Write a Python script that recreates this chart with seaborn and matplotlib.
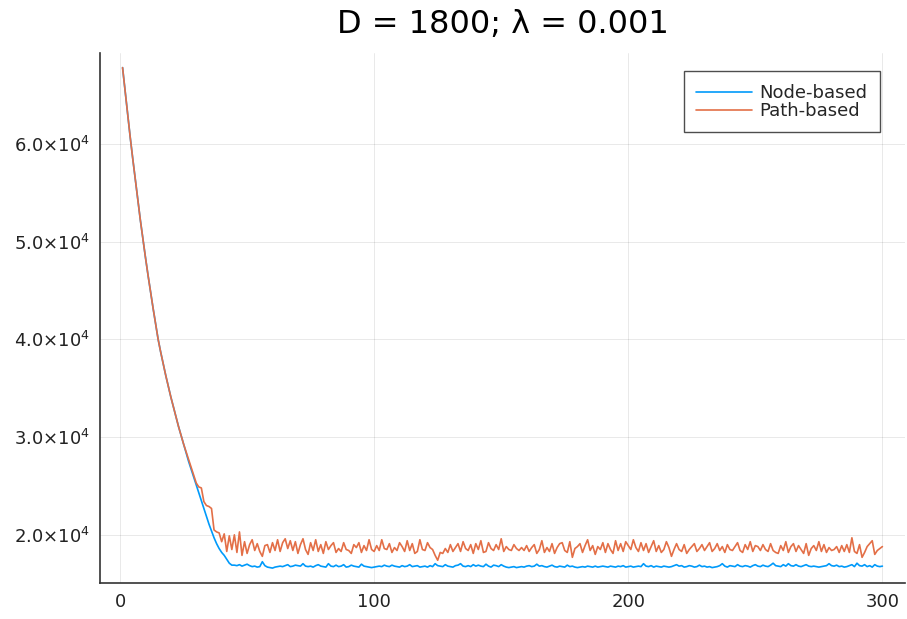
import matplotlib
matplotlib.use("Agg")
import matplotlib.pyplot as plt
from matplotlib.ticker import FixedLocator, FuncFormatter
import seaborn as sns
import pandas as pd

# ---- data ----
iterations = list(range(1, 301))

node_decay = [67800, 65400, 63000, 60700, 58500, 56400, 54300, 52200, 50300, 48400,
              46600, 44900, 43200, 41600, 40000, 38700, 37500, 36300, 35200, 34100,
              33100, 32100, 31100, 30200, 29300, 28400, 27500, 26700, 25900, 25100,
              24300, 23500, 22700, 21900, 21100, 20400, 19700, 19100, 18600, 18200,
              17900, 17500, 17100, 16900]
node_plateau = [16900, 16850, 16950, 16800, 16900, 17000, 16850, 16750, 16800, 16700,
                16750, 17250, 16850, 16700, 16650, 16600, 16700, 16750, 16800, 16750,
                16850, 16950, 16750, 16800, 16900, 16850, 16800, 17050, 16800, 16750,
                16800, 16700, 16850, 16950, 16800, 16750, 16700, 17050, 16800, 16750,
                16900, 16750, 16800, 16950, 16700, 16750, 16900, 16800, 16750, 16700,
                17000, 16800, 16750, 16700, 16650, 16700, 16750, 16800, 16750, 16900,
                16800, 16750, 16900, 16800, 16750, 16700, 16850, 16750, 16800, 16950,
                16750, 16800, 16850, 16700, 16750, 16800, 16700, 16850, 16750, 17050,
                16850, 16800, 16750, 16950, 16800, 16750, 16700, 16850, 16900, 17050,
                16800, 16750, 16850, 16750, 16950, 16800, 16900, 16800, 16750, 17000,
                16800, 16700, 16900, 16850, 16750, 16950, 16800, 16700, 16650, 16700,
                16750, 16650, 16700, 16750, 16700, 16800, 16850, 16750, 16800, 17000,
                16800, 16850, 16750, 16700, 16800, 16900, 16750, 16700, 16800, 16750,
                16700, 16900, 16750, 16800, 16700, 16650, 16700, 16750, 16700, 16800,
                16750, 16700, 16800, 16700, 16750, 16800, 16750, 16700, 16800, 16750,
                16700, 16800, 16750, 16850, 16700, 16750, 16800, 16700, 16750, 16800,
                16750, 17050, 16800, 16750, 16850, 16700, 16800, 16750, 16700, 16800,
                16750, 16700, 16750, 16850, 16950, 16800, 16850, 16700, 16750, 16850,
                16800, 16700, 16750, 16900, 16750, 16800, 16700, 16750, 16650, 16700,
                16750, 16850, 17050, 16800, 16700, 16850, 16800, 16750, 16950, 16800,
                16750, 16850, 16800, 16700, 16850, 16950, 16800, 16750, 16900, 16800,
                16750, 16900, 17100, 16850, 16800, 16750, 16950, 16800, 17050, 16850,
                16800, 16950, 16800, 16750, 16850, 16950, 16800, 16750, 16800, 16750,
                16700, 16750, 16800, 16850, 17050, 16850, 16800, 16900, 16750, 16800,
                16700, 16750, 16850, 16950, 16750, 17100, 16850, 16800, 16950, 16750,
                16850, 16700, 16950, 16800, 16750, 16800]
node_based = node_decay + node_plateau

path_decay = [67800, 65400, 63000, 60700, 58500, 56400, 54300, 52200, 50300, 48400,
              46600, 44900, 43200, 41600, 40000, 38700, 37500, 36300, 35200, 34100,
              33100, 32100, 31100, 30200, 29300, 28500, 27700, 26900, 26100, 25300,
              24900, 24800, 23400, 23000, 22900, 22700, 20500]
path_plateau = [20300, 20200, 19300, 20100, 18300, 19900, 18500, 20000, 18200, 20300,
                17900, 19300, 18100, 19000, 19500, 18400, 19100, 18300, 17800, 18900,
                19000, 18200, 19200, 18400, 19500, 18300, 19200, 19600, 18600, 19400,
                18400, 19300, 18100, 19000, 19600, 18500, 18000, 19200, 18400, 19500,
                18300, 19000, 18100, 19300, 18500, 18900, 19200, 18200, 18600, 18300,
                19200, 18500, 18400, 18100, 19000, 18700, 19200, 18200, 18900, 18400,
                19500, 18500, 18300,
                18900, 18400, 19500, 18600, 18500, 19100, 18200, 18700, 18400, 19200,
                18800, 18300, 19400, 18400, 19100, 18100, 18300, 19500, 18500, 18400,
                19200, 18700, 18500, 17900, 17400, 18200, 18100, 18600, 18200, 19000,
                18300, 18700, 19100, 18300, 19300, 18600, 18400, 19000, 18100, 19100,
                18500, 19400, 18200, 18300, 19200, 18600, 18400, 19000, 18500, 19600,
                18300, 18800, 18500, 18400, 19000, 18600, 18400, 18700, 18400, 18900,
                18300, 18700, 19000, 18100, 18500, 19400, 18200, 18700, 18300, 19100,
                18100, 18700, 19100, 19200, 18400, 18200, 19300, 17700, 18600, 18800,
                19100, 18200, 18900, 19500, 18400, 18900, 18000, 18800, 18500, 19200,
                18200, 19100, 18500, 18100, 19400, 18400, 19100, 18300, 19300, 18900,
                18500, 19500, 18700, 18300, 19200, 18400, 19100, 18200, 18800, 19400,
                18300, 18900, 18200, 18500, 19300, 18700, 17800, 18500, 19100, 18500,
                18300, 19000, 18100, 18500, 18800, 19100, 18300, 18600, 19000, 18400,
                18800, 19200, 18300, 18600, 19100, 18400, 18800, 18200, 19000, 18500,
                18400, 18800, 19200, 18400, 18200, 19000, 18500, 19300, 18300, 18900,
                18800, 18400, 19000, 18500, 18300, 19100, 18400, 18200, 18100, 18900,
                18400, 19300, 18200, 18800, 19100, 18300, 18900, 18500, 18100, 19100,
                17900, 18600, 18900, 18400, 19300, 18300, 19000, 18200, 18700, 18400,
                18500, 18800, 18200, 18900, 18300, 19000, 18200, 19700, 18300, 18100,
                19000, 17700, 18200, 18800, 19100, 19400, 18000, 18400, 18600, 18800]
path_based = path_decay + path_plateau

series_names = ["Node-based", "Path-based"]
title_text = "D = 1800; λ = 0.001"
x_ticks = [0, 100, 200, 300]
y_ticks = [20000, 30000, 40000, 50000, 60000]

df = pd.DataFrame({
    "iteration": iterations * 2,
    "value": node_based + path_based,
    "method": [series_names[0]] * len(iterations) + [series_names[1]] * len(iterations),
})

# ---- style ----
sns.set_style("white")
plt.rcParams["font.family"] = ["DejaVu Sans"]
plt.rcParams["mathtext.fontset"] = "dejavusans"

fig = plt.figure(figsize=(9.07, 6.19), dpi=100)
ax = fig.add_axes([0.110, 0.058, 0.888, 0.857])

palette = {series_names[0]: "#009AFA", series_names[1]: "#E36F47"}
sns.lineplot(data=df, x="iteration", y="value", hue="method", palette=palette,
             linewidth=1.2, ax=ax, legend=True)

ax.margins(x=0.03, y=0.03)
ax.xaxis.set_major_locator(FixedLocator(x_ticks))
ax.yaxis.set_major_locator(FixedLocator(y_ticks))
ax.yaxis.set_major_formatter(FuncFormatter(lambda v, p: r"$%.1f{\times}10^{4}$" % (v / 1e4)))

ax.grid(True, color="#000000", alpha=0.1, linewidth=0.6)
ax.set_xlabel("")
ax.set_ylabel("")
for s in ["top", "right"]:
    ax.spines[s].set_visible(False)
for s in ["left", "bottom"]:
    ax.spines[s].set_color("#333333")
    ax.spines[s].set_linewidth(1.2)
ax.tick_params(axis="both", direction="in", length=5, width=1.0, color="#333333",
               labelsize=13, labelcolor="#222222", pad=7)

ax.set_title(title_text, fontsize=23, pad=14, color="black")

leg = ax.legend(loc="upper right", bbox_to_anchor=(0.969, 0.965), fontsize=13,
                frameon=True, fancybox=False, handlelength=3.1, handletextpad=0.4,
                borderpad=0.7, labelspacing=0.0, borderaxespad=0.0)
leg.get_frame().set_edgecolor("#222222")
leg.get_frame().set_linewidth(1.0)

fig.savefig("out.png", dpi=100)
